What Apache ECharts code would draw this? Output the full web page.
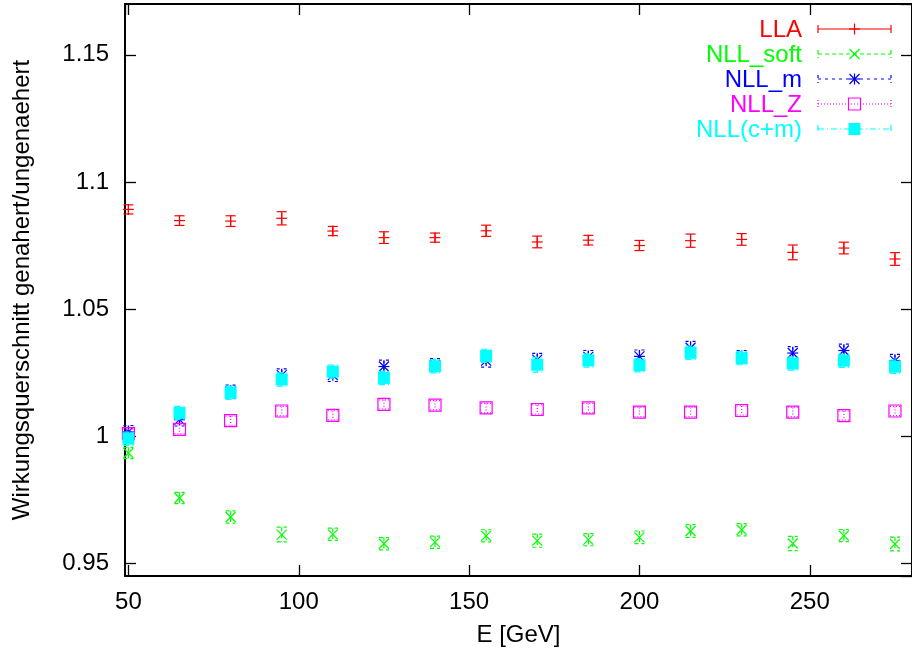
<!DOCTYPE html>
<html>
<head>
<meta charset="utf-8">
<script src="https://cdn.jsdelivr.net/npm/echarts@6/dist/echarts.min.js"></script>
<style>
html,body{margin:0;padding:0;background:#fff;}
#chart{width:912px;height:657px;}
</style>
</head>
<body>
<div id="chart"></div>
<script>
// ---- data ----
const energies = [50, 65, 80, 95, 110, 125, 140, 155, 170, 185, 200, 215, 230, 245, 260, 275];
const seriesNames = ['LLA', 'NLL_soft', 'NLL_m', 'NLL_Z', 'NLL(c+m)'];

const llaValues = [1.0892, 1.0848, 1.0846, 1.0857, 1.0807, 1.0781, 1.0781, 1.0808, 1.0764, 1.0771, 1.0750, 1.0769, 1.0774, 1.0723, 1.0740, 1.0697];
const llaErrors = [0.0018, 0.0019, 0.0021, 0.0026, 0.0018, 0.0023, 0.0018, 0.0022, 0.0023, 0.0019, 0.0020, 0.0026, 0.0023, 0.0029, 0.0023, 0.0025];

const softValues = [0.9934, 0.9757, 0.9682, 0.9613, 0.9614, 0.9577, 0.9583, 0.9608, 0.9589, 0.9593, 0.9602, 0.9627, 0.9632, 0.9578, 0.9609, 0.9576];
const softErrors = [0.0022, 0.0022, 0.0024, 0.0029, 0.0024, 0.0024, 0.0024, 0.0024, 0.0026, 0.0024, 0.0025, 0.0025, 0.0024, 0.0028, 0.0024, 0.0027];

const mValues = [1.0017, 1.0065, 1.0176, 1.0240, 1.0240, 1.0274, 1.0280, 1.0297, 1.0301, 1.0312, 1.0314, 1.0348, 1.0312, 1.0327, 1.0337, 1.0297];
const mErrors = [0.0025, 0.0025, 0.0025, 0.0025, 0.0025, 0.0025, 0.0025, 0.0025, 0.0025, 0.0025, 0.0025, 0.0025, 0.0025, 0.0025, 0.0025, 0.0025];

const zValues = [1.0010, 1.0027, 1.0061, 1.0099, 1.0082, 1.0125, 1.0122, 1.0111, 1.0105, 1.0111, 1.0095, 1.0095, 1.0101, 1.0095, 1.0081, 1.0099];
const zErrors = [0.0018, 0.0018, 0.0018, 0.0018, 0.0018, 0.0018, 0.0018, 0.0018, 0.0018, 0.0018, 0.0018, 0.0018, 0.0018, 0.0018, 0.0018, 0.0018];

const cmValues = [0.9990, 1.0091, 1.0171, 1.0223, 1.0254, 1.0229, 1.0275, 1.0316, 1.0281, 1.0298, 1.0279, 1.0328, 1.0307, 1.0286, 1.0297, 1.0273];
const cmErrors = [0.0026, 0.0026, 0.0026, 0.0026, 0.0026, 0.0026, 0.0026, 0.0026, 0.0029, 0.0026, 0.0026, 0.0026, 0.0026, 0.0026, 0.0026, 0.0026];

const xTickValues = [50, 100, 150, 200, 250];
const yTickValues = [0.95, 1, 1.05, 1.1, 1.15];

// ---- styles ----
const FONT = '"Liberation Sans", Arial, Helvetica, sans-serif';
const styles = [
  {color: '#ff0000', dash: null,         marker: 'plus'},
  {color: '#00ff00', dash: [4, 3],       marker: 'cross'},
  {color: '#0000ff', dash: [3, 4],       marker: 'star'},
  {color: '#ff00ff', dash: [1, 2],       marker: 'box'},
  {color: '#00ffff', dash: [6, 3, 1, 3], marker: 'fbox'}
];
const valueSets = [llaValues, softValues, mValues, zValues, cmValues];
const errorSets = [llaErrors, softErrors, mErrors, zErrors, cmErrors];

function seg(x1, y1, x2, y2, color, dash) {
  return {type: 'line', shape: {x1, y1, x2, y2},
    style: {stroke: color, lineWidth: 1.2, lineDash: dash || null, fill: null}};
}
function markerEls(cx, cy, type, color) {
  const els = [];
  const r = 5.5, d = 5;
  if (type === 'plus' || type === 'star') {
    els.push(seg(cx - r, cy, cx + r, cy, color));
    els.push(seg(cx, cy - r, cx, cy + r, color));
  }
  if (type === 'cross' || type === 'star') {
    els.push(seg(cx - d, cy - d, cx + d, cy + d, color));
    els.push(seg(cx - d, cy + d, cx + d, cy - d, color));
  }
  if (type === 'box') {
    els.push({type: 'rect', shape: {x: cx - 6, y: cy - 6, width: 12, height: 12},
      style: {stroke: color, lineWidth: 1.2, fill: null}});
  }
  if (type === 'fbox') {
    els.push({type: 'rect', shape: {x: cx - 6, y: cy - 6, width: 12, height: 12},
      style: {fill: color, stroke: null}});
  }
  return els;
}

function makeRender(st) {
  return function (params, api) {
    const x = api.value(0), y = api.value(1), e = api.value(2);
    const p = api.coord([x, y]);
    const pt = api.coord([x, y + e]);
    const pb = api.coord([x, y - e]);
    const cw = 5;
    const children = [
      seg(p[0], pt[1], p[0], pb[1], st.color, st.dash),
      seg(p[0] - cw, pt[1], p[0] + cw, pt[1], st.color, st.dash),
      seg(p[0] - cw, pb[1], p[0] + cw, pb[1], st.color, st.dash)
    ].concat(markerEls(p[0], p[1], st.marker, st.color));
    return {type: 'group', children};
  };
}

const series = seriesNames.map((name, i) => ({
  name,
  type: 'custom',
  xAxisIndex: 0,
  yAxisIndex: 0,
  renderItem: makeRender(styles[i]),
  encode: {x: 0, y: 1},
  data: energies.map((e, k) => [e, valueSets[i][k], errorSets[i][k]]),
  z: 2 + i,
  silent: true
}));

// legend built as graphic (text left, sample right, gnuplot style)
const legendEls = [];
const legTextX = 802, legSampleX1 = 818, legSampleX2 = 891, legTop = 29, legPitch = 25;
seriesNames.forEach((name, i) => {
  const st = styles[i];
  const cy = legTop + i * legPitch;
  const mx = (legSampleX1 + legSampleX2) / 2;
  legendEls.push({type: 'text', x: legTextX, y: cy + 1,
    style: {text: name, fill: st.color, fontSize: 24, fontFamily: FONT, align: 'right', verticalAlign: 'middle'}});
  legendEls.push(seg(legSampleX1, cy, legSampleX2, cy, st.color, st.dash));
  legendEls.push(seg(legSampleX1, cy - 4, legSampleX1, cy + 4, st.color, st.dash));
  legendEls.push(seg(legSampleX2, cy - 4, legSampleX2, cy + 4, st.color, st.dash));
  markerEls(mx, cy, st.marker, st.color).forEach(el => legendEls.push(el));
});

function fmtX(v) {
  return xTickValues.some(t => Math.abs(t - v) < 1e-6) ? String(v) : '';
}
function fmtY(v) {
  return yTickValues.some(t => Math.abs(t - v) < 1e-6) ? String(+v.toFixed(2)) : '';
}

const axisLineStyle = {show: true, lineStyle: {color: '#000', width: 2}};
const tickStyle = {show: true, inside: true, length: 11, lineStyle: {color: '#000', width: 1.3}};

const option = {
  backgroundColor: '#fff',
  animation: false,
  grid: {left: 125, right: -12, top: 4, bottom: 81, containLabel: false},
  xAxis: [
    {type: 'value', min: 49, max: 280, splitNumber: 5, position: 'bottom',
      name: 'E [GeV]', nameLocation: 'middle', nameGap: 47,
      nameTextStyle: {fontSize: 24, fontFamily: FONT, color: '#000'},
      axisLine: axisLineStyle, axisTick: tickStyle, splitLine: {show: false},
      axisLabel: {show: true, fontSize: 24, fontFamily: FONT, color: '#000', margin: 14,
        showMinLabel: false, showMaxLabel: false, formatter: fmtX}},
    {type: 'value', min: 49, max: 280, splitNumber: 5, position: 'top',
      axisLine: axisLineStyle, axisTick: tickStyle, splitLine: {show: false},
      axisLabel: {show: false}}
  ],
  yAxis: [
    {type: 'value', min: 0.945, max: 1.17, splitNumber: 5, position: 'left',
      name: 'Wirkungsquerschnitt genahert/ungenaehert', nameLocation: 'middle', nameGap: 91,
      nameTextStyle: {fontSize: 24, fontFamily: FONT, color: '#000'},
      axisLine: axisLineStyle, axisTick: tickStyle, splitLine: {show: false},
      axisLabel: {show: true, fontSize: 24, fontFamily: FONT, color: '#000', margin: 16,
        showMinLabel: false, showMaxLabel: false, formatter: fmtY}},
    {type: 'value', min: 0.945, max: 1.17, splitNumber: 5, position: 'right',
      axisLine: axisLineStyle, axisTick: tickStyle, splitLine: {show: false},
      axisLabel: {show: false}}
  ],
  series,
  graphic: [{type: 'group', z: 100, children: legendEls}]
};

const chart = echarts.init(document.getElementById('chart'), null, {renderer: 'canvas'});
chart.setOption(option);
</script>
</body>
</html>
